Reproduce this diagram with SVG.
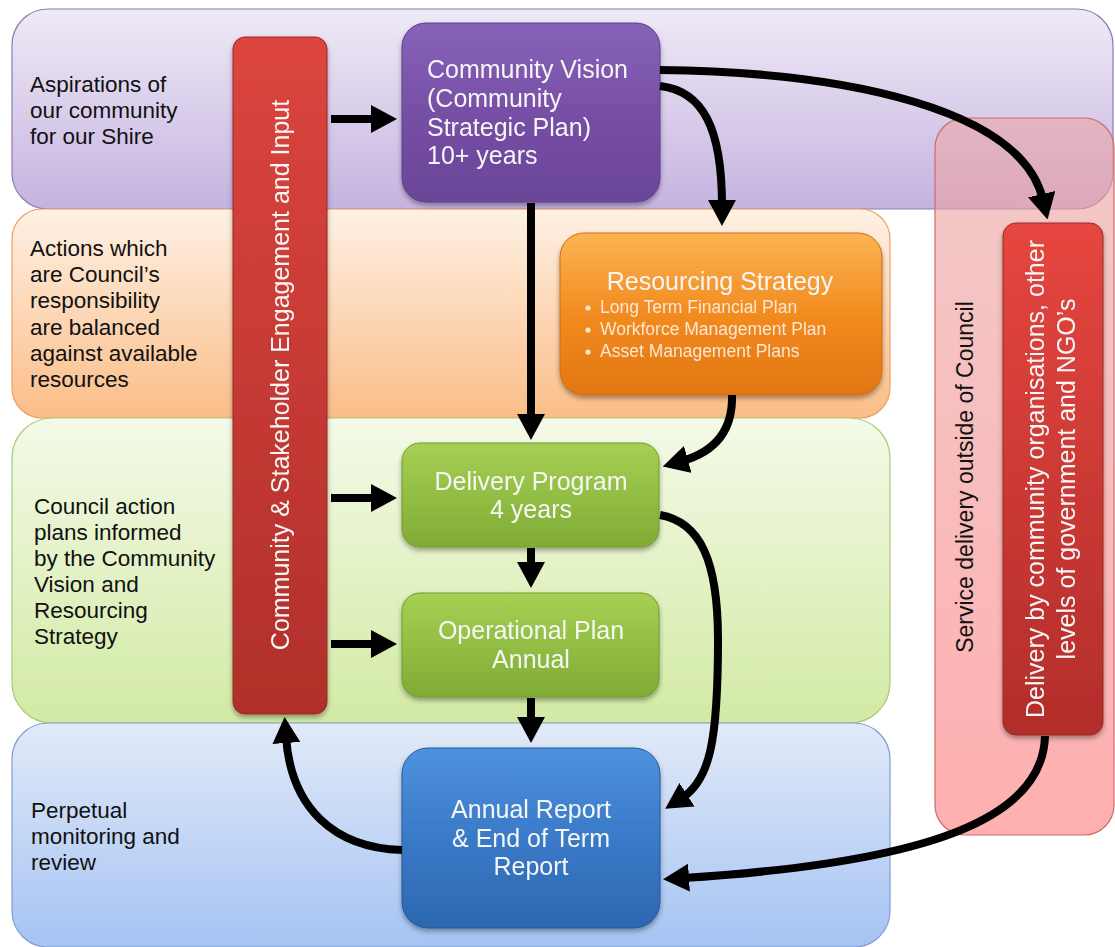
<svg xmlns="http://www.w3.org/2000/svg" width="1115" height="947" viewBox="0 0 1115 947">
<defs>
<linearGradient id="gPurpleBand" x1="0" y1="0" x2="0" y2="1"><stop offset="0" stop-color="#efeaf7"/><stop offset="1" stop-color="#c5b3e0"/></linearGradient>
<linearGradient id="gOrangeBand" x1="0" y1="0" x2="0" y2="1"><stop offset="0" stop-color="#fef1e4"/><stop offset="1" stop-color="#fbbd88"/></linearGradient>
<linearGradient id="gGreenBand" x1="0" y1="0" x2="0" y2="1"><stop offset="0" stop-color="#f4fae8"/><stop offset="1" stop-color="#d2eaa4"/></linearGradient>
<linearGradient id="gBlueBand" x1="0" y1="0" x2="0" y2="1"><stop offset="0" stop-color="#e2eaf8"/><stop offset="1" stop-color="#a5c3f3"/></linearGradient>
<linearGradient id="gPinkBand" x1="0" y1="0" x2="0" y2="1"><stop offset="0" stop-color="#e9a6a6"/><stop offset="1" stop-color="#ff7a7a"/></linearGradient>
<linearGradient id="gVision" x1="0" y1="0" x2="0" y2="1"><stop offset="0" stop-color="#8763b8"/><stop offset="0.5" stop-color="#774fa6"/><stop offset="1" stop-color="#6a4598"/></linearGradient>
<linearGradient id="gOrange" x1="0" y1="0" x2="0" y2="1"><stop offset="0" stop-color="#fbb452"/><stop offset="0.5" stop-color="#f28b20"/><stop offset="1" stop-color="#e27612"/></linearGradient>
<linearGradient id="gGreen" x1="0" y1="0" x2="0" y2="1"><stop offset="0" stop-color="#a6d054"/><stop offset="0.5" stop-color="#92be44"/><stop offset="1" stop-color="#80ab35"/></linearGradient>
<linearGradient id="gBlue" x1="0" y1="0" x2="0" y2="1"><stop offset="0" stop-color="#4f92de"/><stop offset="0.5" stop-color="#3a7ac8"/><stop offset="1" stop-color="#2c67b0"/></linearGradient>
<linearGradient id="gRed" x1="0" y1="0" x2="0" y2="1"><stop offset="0" stop-color="#dc453e"/><stop offset="1" stop-color="#b02f2b"/></linearGradient>
<linearGradient id="gRed2" x1="0" y1="0" x2="0" y2="1"><stop offset="0" stop-color="#e6463f"/><stop offset="1" stop-color="#b22d2b"/></linearGradient>
<filter id="shadow" x="-10%" y="-10%" width="120%" height="125%">
<feDropShadow dx="0" dy="3" stdDeviation="2.5" flood-color="#000" flood-opacity="0.35"/>
</filter>
<marker id="ah" markerUnits="userSpaceOnUse" viewBox="0 0 26 28" markerWidth="26" markerHeight="28" refX="6" refY="14" orient="auto">
<path d="M0,0 L26,14 L0,28 z" fill="#000"/>
</marker>
</defs>
<style>
.lbl{font-family:"Liberation Sans",Arial,sans-serif;font-size:22.5px;fill:#111}
.bx{font-family:"Liberation Sans",Arial,sans-serif;font-size:25px;fill:#f6f6f6}
.bul{font-family:"Liberation Sans",Arial,sans-serif;font-size:17.5px;fill:#fbe7d2}
.svc{font-family:"Liberation Sans",Arial,sans-serif;font-size:23px;fill:#111}
.conn{fill:none;stroke:#000;stroke-width:8;marker-end:url(#ah)}
.node{filter:url(#shadow)}
</style>

<g id="bands">
<rect id="band-aspirations" x="12" y="9" width="1101" height="200" rx="36" fill="url(#gPurpleBand)" stroke="#8c7cb3" stroke-width="1.2"/>
<rect id="band-actions" x="12" y="209" width="878" height="209" rx="30" fill="url(#gOrangeBand)" stroke="#eda064" stroke-width="1.2"/>
<rect id="band-council" x="12" y="418" width="878" height="305" rx="40" fill="url(#gGreenBand)" stroke="#a9c97a" stroke-width="1.2"/>
<rect id="band-monitoring" x="12" y="723" width="878" height="224" rx="36" fill="url(#gBlueBand)" stroke="#7f9dd2" stroke-width="1.2"/>
<rect id="band-service" x="935" y="118" width="179" height="717" rx="30" fill="url(#gPinkBand)" fill-opacity="0.6" stroke="#d06a6a" stroke-width="1.2"/>
</g>

<g id="band-labels">
<text class="lbl" x="30" y="92">Aspirations of</text>
<text class="lbl" x="30" y="118">our community</text>
<text class="lbl" x="30" y="144">for our Shire</text>
<text class="lbl" x="30" y="256">Actions which</text>
<text class="lbl" x="30" y="282">are Council’s</text>
<text class="lbl" x="30" y="308">responsibility</text>
<text class="lbl" x="30" y="335">are balanced</text>
<text class="lbl" x="30" y="361">against available</text>
<text class="lbl" x="30" y="387">resources</text>
<text class="lbl" x="34" y="514">Council action</text>
<text class="lbl" x="34" y="540">plans informed</text>
<text class="lbl" x="34" y="566">by the Community</text>
<text class="lbl" x="34" y="592">Vision and</text>
<text class="lbl" x="34" y="618">Resourcing</text>
<text class="lbl" x="34" y="644">Strategy</text>
<text class="lbl" x="31" y="818">Perpetual</text>
<text class="lbl" x="31" y="844">monitoring and</text>
<text class="lbl" x="31" y="870">review</text>
<text class="svc" transform="translate(973,477) rotate(-90)" text-anchor="middle">Service delivery outside of Council</text>
</g>

<g id="node-engagement" class="node">
<rect x="233" y="37" width="94" height="677" rx="12" fill="url(#gRed)" stroke="#9a2a26" stroke-width="1"/>
<text class="bx" transform="translate(289,375) rotate(-90)" text-anchor="middle">Community &amp; Stakeholder Engagement and Input</text>
</g>

<g id="node-vision" class="node">
<rect x="402" y="23" width="258" height="179" rx="24" fill="url(#gVision)" stroke="#5e3d88" stroke-width="1"/>
<text class="bx" x="427" y="78">Community Vision</text>
<text class="bx" x="427" y="107">(Community</text>
<text class="bx" x="427" y="136">Strategic Plan)</text>
<text class="bx" x="427" y="164">10+ years</text>
</g>

<g id="node-resourcing" class="node">
<rect x="560" y="233" width="322" height="162" rx="24" fill="url(#gOrange)" stroke="#d06c10" stroke-width="1"/>
<text class="bx" x="720" y="290" text-anchor="middle">Resourcing Strategy</text>
<circle cx="588" cy="308" r="2.6" fill="#fbe7d2"/>
<circle cx="588" cy="330" r="2.6" fill="#fbe7d2"/>
<circle cx="588" cy="352" r="2.6" fill="#fbe7d2"/>
<text class="bul" x="600" y="313">Long Term Financial Plan</text>
<text class="bul" x="600" y="335">Workforce Management Plan</text>
<text class="bul" x="600" y="357">Asset Management Plans</text>
</g>

<g id="node-delivery" class="node">
<rect x="402" y="443" width="257" height="104" rx="18" fill="url(#gGreen)" stroke="#6f9a2c" stroke-width="1"/>
<text class="bx" x="531" y="490" text-anchor="middle">Delivery Program</text>
<text class="bx" x="531" y="518" text-anchor="middle">4 years</text>
</g>

<g id="node-operational" class="node">
<rect x="402" y="593" width="257" height="104" rx="18" fill="url(#gGreen)" stroke="#6f9a2c" stroke-width="1"/>
<text class="bx" x="531" y="639" text-anchor="middle">Operational Plan</text>
<text class="bx" x="531" y="668" text-anchor="middle">Annual</text>
</g>

<g id="node-annual" class="node">
<rect x="402" y="748" width="258" height="180" rx="26" fill="url(#gBlue)" stroke="#25599a" stroke-width="1"/>
<text class="bx" x="531" y="818" text-anchor="middle">Annual Report</text>
<text class="bx" x="531" y="847" text-anchor="middle">&amp; End of Term</text>
<text class="bx" x="531" y="875" text-anchor="middle">Report</text>
</g>

<g id="node-external" class="node">
<rect x="1003" y="223" width="100" height="512" rx="13" fill="url(#gRed2)" stroke="#9a2a26" stroke-width="1"/>
<text class="bx" transform="translate(1044,479) rotate(-90)" text-anchor="middle">Delivery by community organisations, other</text>
<text class="bx" transform="translate(1075,479) rotate(-90)" text-anchor="middle">levels of government and NGO’s</text>
</g>

<g id="connectors">
<path class="conn" d="M331,119 L377,119"/>
<path class="conn" d="M331,498 L377,498"/>
<path class="conn" d="M331,644 L377,644"/>
<path class="conn" d="M531,203 L531,420"/>
<path class="conn" d="M531,548 L531,568"/>
<path class="conn" d="M531,698 L531,723"/>
<path class="conn" d="M660,86 C703,91 722,128 722,206"/>
<path class="conn" d="M660,70 C850,72 1022,110 1043,200"/>
<path class="conn" d="M732,395 C733,432 714,452 682,461"/>
<path class="conn" d="M660,515 C700,522 718,560 718,640 C718,740 710,780 682,798"/>
<path class="conn" d="M1045,736 C1043,815 940,862 683,878"/>
<path class="conn" d="M402,850 C334,848 291,808 286,737"/>
</g>
</svg>
